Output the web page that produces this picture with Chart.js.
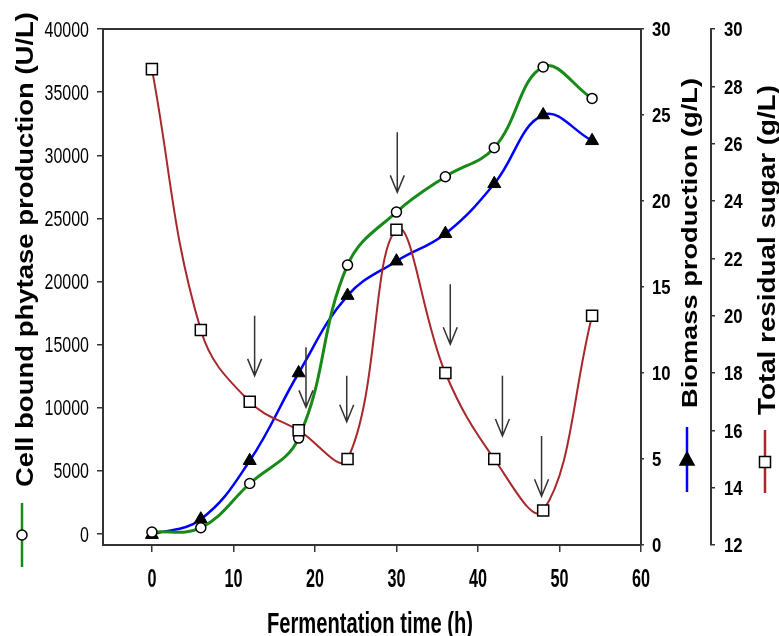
<!DOCTYPE html>
<html>
<head>
<meta charset="utf-8">
<script src="https://cdn.jsdelivr.net/npm/chart.js@4.4.0/dist/chart.umd.min.js"></script>
<style>
  body { margin: 0; background: #fff; }
  #wrap { width: 779px; height: 636px; }
</style>
</head>
<body>
<div id="wrap"><canvas id="chart" width="779" height="636"></canvas></div>
<script>
// fermentation time (h)
const hours = [0, 6, 12, 18, 24, 30, 36, 42, 48, 54]
// cell bound phytase production (U/L)
const phytase = [150, 500, 4000, 7600, 21300, 25500, 28300, 30600, 37000, 34500]
// biomass production (g/L)
const biomass = [0.6, 1.5, 4.9, 10.0, 14.5, 16.5, 18.1, 21.0, 25.0, 23.5]
// total residual sugar (g/L)
const sugar = [28.6, 19.5, 17.0, 16.0, 15.0, 23.0, 18.0, 15.0, 13.2, 20.0]

const timeTicks = [0, 10, 20, 30, 40, 50, 60]
const phytaseTicks = [0, 5000, 10000, 15000, 20000, 25000, 30000, 35000, 40000]
const biomassTicks = [0, 5, 10, 15, 20, 25, 30]
const sugarTicks = [12, 14, 16, 18, 20, 22, 24, 26, 28, 30]

// feeding arrows: time (h), shaft top and tip read on the sugar axis (g/L)
const arrowTimes = [12.6, 18.9, 23.9, 30.1, 36.6, 43.0, 47.8]
const arrowTops = [20.0, 18.9, 17.9, 26.4, 21.1, 17.9, 15.8]
const arrowTips = [17.9, 16.8, 16.3, 24.3, 19.0, 15.8, 13.7]

const GREEN = '#178a17'
const BLUE = '#0000ff'
const RED = '#a8282c'
const AXIS = '#333'
const FAMILY = '"Liberation Sans", Arial, sans-serif'

const toPoints = (ys) => hours.map((t, i) => ({ x: t, y: ys[i] }))

// the source figure is stretched, so text is drawn scaled to measured sizes
const scaledText = (ctx, text, x, y, sx, sy, align, angle) => {
  const cap = ctx.measureText('H').actualBoundingBoxAscent
  ctx.save()
  ctx.translate(x, y)
  ctx.rotate(angle || 0)
  ctx.scale(sx, sy)
  ctx.textAlign = align
  ctx.textBaseline = 'alphabetic'
  ctx.fillText(text, 0, cap / 2)
  ctx.restore()
}

// fit a title to a given length and cap height, centred on x,y
const fitTitle = (ctx, text, x, y, length, capHeight, angle) => {
  const w = ctx.measureText(text).width
  const cap = ctx.measureText('H').actualBoundingBoxAscent
  scaledText(ctx, text, x, y, length / w, capHeight / cap, 'center', angle)
}

// tick labels sized by digit width and digit height
const tickLabels = (ctx, scale, values, weight, digitW, capH, place) => {
  ctx.save()
  ctx.fillStyle = '#000'
  ctx.font = weight + ' 20px ' + FAMILY
  const d = ctx.measureText('0')
  const sx = digitW / d.width
  const sy = capH / d.actualBoundingBoxAscent
  values.forEach(v => {
    const p = scale.getPixelForValue(v)
    const [x, y, align] = place(p)
    scaledText(ctx, String(v), x, y, sx, sy, align, 0)
  })
  ctx.restore()
}

const marker = (ctx, style, x, y) => {
  ctx.save()
  ctx.lineWidth = 1.5
  ctx.strokeStyle = '#000'
  ctx.beginPath()
  if (style === 'circle') {
    ctx.fillStyle = '#fff'
    ctx.arc(x, y, 5, 0, Math.PI * 2)
  } else if (style === 'triangle') {
    ctx.fillStyle = '#000'
    ctx.moveTo(x, y - 8)
    ctx.lineTo(x + 7, y + 5)
    ctx.lineTo(x - 7, y + 5)
    ctx.closePath()
  } else {
    ctx.fillStyle = '#fff'
    ctx.rect(x - 5.5, y - 5.5, 11, 11)
  }
  ctx.fill()
  ctx.stroke()
  ctx.restore()
}

const legendLine = (ctx, color, x, y0, y1) => {
  ctx.save()
  ctx.strokeStyle = color
  ctx.lineWidth = 2.5
  ctx.beginPath()
  ctx.moveTo(x, y0)
  ctx.lineTo(x, y1)
  ctx.stroke()
  ctx.restore()
}

const decorations = {
  id: 'decorations',
  afterDatasetsDraw: (chart) => {
    const ctx = chart.ctx
    const xs = chart.scales.x
    const ys = chart.scales.y2
    ctx.save()
    ctx.strokeStyle = AXIS
    ctx.lineWidth = 1.5
    for (let i = 0; i < arrowTimes.length; i++) {
      const x = xs.getPixelForValue(arrowTimes[i])
      const top = ys.getPixelForValue(arrowTops[i])
      const tip = ys.getPixelForValue(arrowTips[i])
      ctx.beginPath()
      ctx.moveTo(x, top)
      ctx.lineTo(x, tip)
      ctx.moveTo(x - 7, tip - 17)
      ctx.lineTo(x, tip)
      ctx.lineTo(x + 7, tip - 17)
      ctx.stroke()
    }
    ctx.restore()
  },
  afterDraw: (chart) => {
    const ctx = chart.ctx
    const area = chart.chartArea
    const s = chart.scales

    // top frame line
    ctx.save()
    ctx.strokeStyle = AXIS
    ctx.lineWidth = 2
    ctx.beginPath()
    ctx.moveTo(area.left, area.top)
    ctx.lineTo(area.right, area.top)
    ctx.stroke()
    ctx.restore()

    tickLabels(ctx, s.y, phytaseTicks, 'normal', 8.9, 15, p => [89, p, 'right'])
    tickLabels(ctx, s.y1, biomassTicks, 'bold', 9.3, 14.5, p => [652, p, 'left'])
    tickLabels(ctx, s.y2, sugarTicks, 'bold', 9.3, 14.5, p => [724, p, 'left'])
    tickLabels(ctx, s.x, timeTicks, 'bold', 9, 18, p => [p, 578, 'center'])

    ctx.save()
    ctx.fillStyle = '#000'
    ctx.font = 'bold 20px ' + FAMILY
    fitTitle(ctx, 'Cell bound phytase production (U/L)', 24, 249.5, 475, 17, -Math.PI / 2)
    fitTitle(ctx, 'Biomass production (g/L)', 688.5, 243, 330, 16, -Math.PI / 2)
    fitTitle(ctx, 'Total residual sugar (g/L)', 766, 250, 330, 17, -Math.PI / 2)
    fitTitle(ctx, 'Fermentation time (h)', 370, 622, 206, 21, 0)
    ctx.restore()

    legendLine(ctx, GREEN, 22, 503, 567)
    marker(ctx, 'circle', 22, 535)
    legendLine(ctx, BLUE, 687, 427, 492)
    marker(ctx, 'triangle', 687, 460)
    legendLine(ctx, RED, 765, 430, 493)
    marker(ctx, 'rect', 765, 462)
  }
}

const axisGrid = (len) => ({ drawOnChartArea: false, tickLength: len, color: AXIS, lineWidth: 1.5 })

new Chart(document.getElementById('chart'), {
  type: 'line',
  data: {
    datasets: [
      {
        label: 'Total residual sugar (g/L)',
        data: toPoints(sugar),
        yAxisID: 'y2',
        borderColor: RED,
        borderWidth: 2,
        tension: 0.4,
        pointStyle: 'rect',
        pointRadius: 7.8,
        pointBackgroundColor: '#fff',
        pointBorderColor: '#000',
        pointBorderWidth: 1.5,
        order: 0
      },
      {
        label: 'Cell bound phytase production (U/L)',
        data: toPoints(phytase),
        yAxisID: 'y',
        borderColor: GREEN,
        borderWidth: 3,
        tension: 0.4,
        pointStyle: 'circle',
        pointRadius: 5,
        pointBackgroundColor: '#fff',
        pointBorderColor: '#000',
        pointBorderWidth: 1.5,
        order: 1
      },
      {
        label: 'Biomass production (g/L)',
        data: toPoints(biomass),
        yAxisID: 'y1',
        borderColor: BLUE,
        borderWidth: 2.5,
        tension: 0.4,
        pointStyle: 'triangle',
        pointRadius: 7.5,
        pointBackgroundColor: '#000',
        pointBorderColor: '#000',
        pointBorderWidth: 1,
        order: 2
      }
    ]
  },
  options: {
    responsive: false,
    animation: false,
    layout: { padding: { top: 29, left: 0, right: 0, bottom: 0 } },
    plugins: {
      legend: { display: false },
      tooltip: { enabled: false }
    },
    scales: {
      x: {
        type: 'linear',
        min: -6,
        max: 60,
        afterBuildTicks: (s) => { s.ticks = timeTicks.map(v => ({ value: v })) },
        afterFit: (s) => { s.height = 91 },
        grid: axisGrid(7),
        border: { color: AXIS, width: 2 },
        ticks: { display: false }
      },
      y: {
        position: 'left',
        min: -870,
        max: 40000,
        afterBuildTicks: (s) => { s.ticks = phytaseTicks.map(v => ({ value: v })) },
        afterFit: (s) => { s.width = 103 },
        grid: axisGrid(6),
        border: { color: AXIS, width: 2 },
        ticks: { display: false }
      },
      y1: {
        position: 'right',
        min: 0,
        max: 30,
        afterBuildTicks: (s) => { s.ticks = biomassTicks.map(v => ({ value: v })) },
        afterFit: (s) => { s.width = 70 },
        grid: axisGrid(3),
        border: { color: AXIS, width: 2 },
        ticks: { display: false }
      },
      y2: {
        position: 'right',
        min: 12,
        max: 30,
        afterBuildTicks: (s) => { s.ticks = sugarTicks.map(v => ({ value: v })) },
        afterFit: (s) => { s.width = 68 },
        grid: axisGrid(4),
        border: { color: AXIS, width: 2 },
        ticks: { display: false }
      }
    }
  },
  plugins: [decorations]
})
</script>
</body>
</html>
